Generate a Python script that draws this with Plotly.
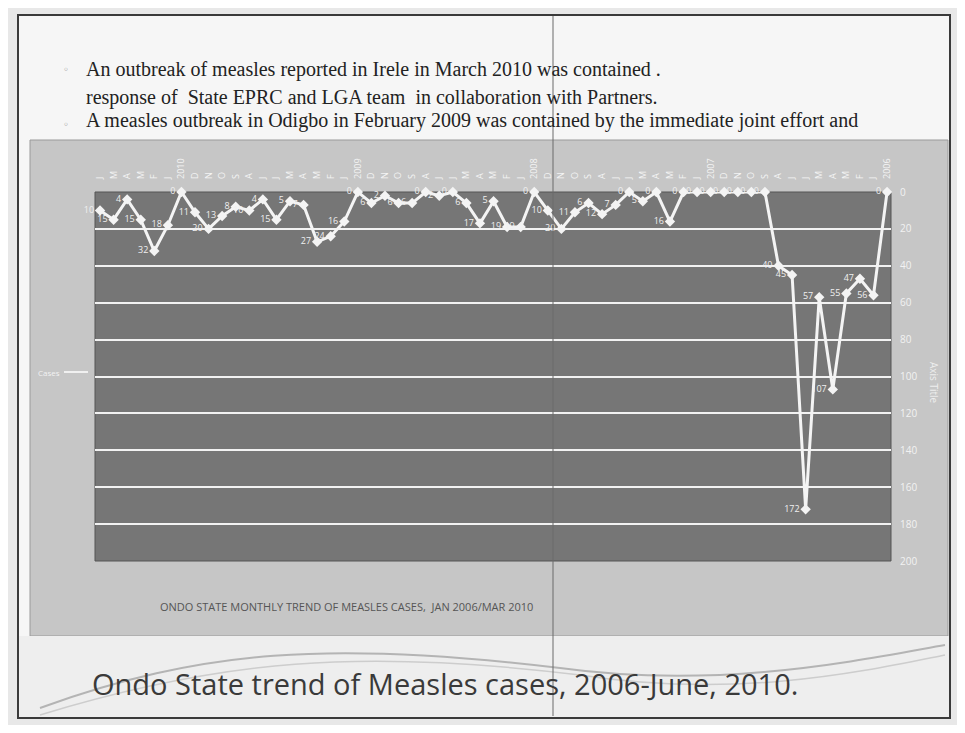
import plotly.graph_objects as go

# ---------------- data ----------------
years = ["2006", "2007", "2008", "2009", "2010"]
month_letters = ["J", "F", "M", "A", "M", "J", "J", "A", "S", "O", "N", "D"]
# first value of each list is the year-header row (plotted at 0)
cases_2006 = [0, 56, 47, 55, 107, 57, 172, 45, 40, 0, 0, 0, 0]
cases_2007 = [0, 0, 0, 16, 0, 5, 0, 7, 12, 6, 11, 20, 10]
cases_2008 = [0, 19, 19, 5, 17, 6, 0, 2, 0, 6, 6, 2, 6]
cases_2009 = [0, 16, 24, 27, 7, 5, 15, 4, 10, 8, 13, 20, 11]
cases_2010 = [0, 18, 32, 15, 4, 15, 10]
y_ticks = [0, 20, 40, 60, 80, 100, 120, 140, 160, 180, 200]

labels, values = [], []
for yr, cs in zip(years, [cases_2006, cases_2007, cases_2008, cases_2009, cases_2010]):
    labels.append(yr)
    values.append(cs[0])
    for m, v in zip(month_letters, cs[1:]):
        labels.append(m)
        values.append(v)
xs = list(range(len(labels)))

# ---------------- geometry (page pixels; the page body has an 8px margin) ----------------
OFF = 8
W, H = 965 - 2 * OFF, 733 - 2 * OFF
PX0, PX1, PY0, PY1 = 95, 891, 192, 561   # plot area in page pixels
L, R = PX0 - OFF, W - (PX1 - OFF)
T, B = PY0 - OFF, H - (PY1 - OFF)


def fx(px):
    return (px - PX0) / (PX1 - PX0)


def fy(py):
    return (PY1 - py) / (PY1 - PY0)


fig = go.Figure()
fig.add_trace(go.Scatter(
    x=xs, y=values, mode="lines+markers+text",
    line=dict(color="#f4f4f4", width=3),
    marker=dict(symbol="diamond", size=8, color="#f4f4f4"),
    text=[str(v) for v in values], textposition="middle left",
    textfont=dict(family="Open Sans", size=9, color="#f0f0f0"),
    showlegend=False, cliponaxis=False,
))

shapes = []
shapes.append(dict(type="rect", xref="paper", yref="paper", x0=fx(18), x1=fx(950), y0=fy(15), y1=fy(718),
                   fillcolor="#f6f6f6", line=dict(color="#3a3a3a", width=2), layer="below"))
shapes.append(dict(type="rect", xref="paper", yref="paper", x0=fx(30), x1=fx(948), y0=fy(140), y1=fy(636),
                   fillcolor="#c6c6c6", line=dict(color="#9a9a9a", width=1), layer="below"))
shapes.append(dict(type="rect", xref="paper", yref="paper", x0=fx(19), x1=fx(949), y0=fy(636), y1=fy(717),
                   fillcolor="#eeeeee", line=dict(width=0), layer="below"))
shapes.append(dict(type="rect", xref="paper", yref="paper", x0=0, x1=1, y0=0, y1=1,
                   fillcolor="#767676", line=dict(color="#555555", width=1), layer="below"))


def path(pts):
    s = "M %f,%f" % (fx(pts[0][0]), fy(pts[0][1]))
    for i in range(1, len(pts), 3):
        s += " C %f,%f %f,%f %f,%f" % (fx(pts[i][0]), fy(pts[i][1]), fx(pts[i + 1][0]), fy(pts[i + 1][1]),
                                       fx(pts[i + 2][0]), fy(pts[i + 2][1]))
    return s


shapes.append(dict(type="path", xref="paper", yref="paper",
                   path=path([(40, 708), (200, 650), (330, 640), (560, 668), (720, 690), (860, 660), (945, 645)]),
                   line=dict(color="#b4b4b4", width=2), layer="below"))
shapes.append(dict(type="path", xref="paper", yref="paper",
                   path=path([(40, 715), (220, 660), (360, 648), (580, 675), (740, 700), (870, 670), (945, 655)]),
                   line=dict(color="#cdcdcd", width=1.5), layer="below"))
shapes.append(dict(type="line", xref="paper", yref="paper", x0=fx(553), x1=fx(553), y0=fy(16), y1=fy(716),
                   line=dict(color="#6a6a6a", width=1)))
shapes.append(dict(type="line", xref="paper", yref="paper", x0=fx(64), x1=fx(88), y0=fy(372), y1=fy(372),
                   line=dict(color="#f0f0f0", width=2)))

ann = []
ann.append(dict(text="Ondo State trend of Measles cases, 2006-June, 2010.", x=fx(445), y=fy(683),
                xref="paper", yref="paper", showarrow=False, xanchor="center", yanchor="middle",
                font=dict(family="Open Sans", size=29, color="#3a3a3a")))
ann.append(dict(text="ONDO STATE MONTHLY TREND OF MEASLES CASES,  JAN 2006/MAR 2010", x=fx(346), y=fy(606),
                xref="paper", yref="paper", showarrow=False, xanchor="center", yanchor="middle",
                font=dict(family="Open Sans", size=11, color="#555555")))
serif = "Liberation Serif"
ann.append(dict(text="A measles outbreak in Odigbo in February 2009 was contained by the immediate joint effort and",
                x=fx(84), y=fy(121), xref="paper", yref="paper", showarrow=False, xanchor="left", yanchor="middle",
                font=dict(family=serif, size=20, color="#222222")))
ann.append(dict(text="response of  State EPRC and LGA team  in collaboration with Partners.",
                x=fx(84), y=fy(98), xref="paper", yref="paper", showarrow=False, xanchor="left", yanchor="middle",
                font=dict(family=serif, size=20, color="#222222")))
ann.append(dict(text="An outbreak of measles reported in Irele in March 2010 was contained .",
                x=fx(84), y=fy(69), xref="paper", yref="paper", showarrow=False, xanchor="left", yanchor="middle",
                font=dict(family=serif, size=20, color="#222222")))
for by in (124, 70):
    ann.append(dict(text="◦", x=fx(66), y=fy(by), xref="paper", yref="paper", showarrow=False,
                    xanchor="center", yanchor="middle", font=dict(family="DejaVu Sans", size=10, color="#777777")))
ann.append(dict(text="Cases", x=fx(62), y=fy(372), xref="paper", yref="paper", showarrow=False,
                xanchor="right", yanchor="middle", font=dict(family="Open Sans", size=8, color="#f2f2f2")))
ann.append(dict(text="Axis Title", x=fx(934), y=fy(383), xref="paper", yref="paper", showarrow=False,
                textangle=90, xanchor="center", yanchor="middle",
                font=dict(family="Open Sans", size=10, color="#eeeeee")))

fig.update_layout(
    width=W, height=H,
    margin=dict(l=L, r=R, t=T, b=B, pad=0),
    paper_bgcolor="#e8e8e8", plot_bgcolor="rgba(0,0,0,0)",
    shapes=shapes, annotations=ann, showlegend=False,
    xaxis=dict(range=[len(xs) - 1 + 0.37, -0.29], side="top", tickmode="array", tickvals=xs,
               ticktext=labels, tickangle=-90, tickfont=dict(family="Open Sans", size=9, color="#f4f4f4"),
               showgrid=False, zeroline=False, showline=False, ticks="", ticklabelstandoff=12),
    yaxis=dict(range=[200, 0], side="right", tickvals=y_ticks, gridcolor="#f2f2f2", gridwidth=1.5,
               tickfont=dict(family="Open Sans", size=10, color="#f2f2f2"), zeroline=False,
               showline=False, ticks="", ticklabelstandoff=8),
)

fig.write_html("out.html")
